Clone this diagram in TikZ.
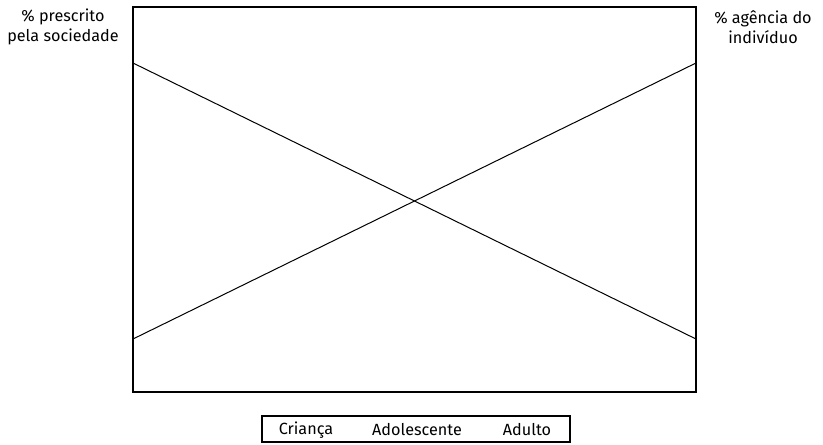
\documentclass[tikz,border=0pt]{standalone}
\usepackage{fontspec}
\setmainfont{Fira Sans}
\begin{document}
\begin{tikzpicture}[x=1pt,y=-1pt,
  lbl/.style={font=\fontsize{16.2}{20}\selectfont, align=center, inner sep=0pt},
  frame/.style={draw=black, line width=1.1pt},
  trend/.style={draw=black, line width=1pt}]
\useasboundingbox (0,0) rectangle (823,445);
\draw[frame] (133,7) rectangle (696,392);
\coordinate (l1) at (133,63);
\coordinate (r1) at (696,339);
\coordinate (l2) at (133,339);
\coordinate (r2) at (696,63);
\draw[trend] (l1) -- (r1);
\draw[trend] (l2) -- (r2);
\node[lbl] (pres) at (63,27) {\% prescrito\\pela sociedade};
\node[lbl] (agen) at (763,27) {\% agência do\\indivíduo};
\draw[frame] (262,416) rectangle (570,442);
\node[lbl] (cri) at (306,430) {Criança};
\node[lbl] (ado) at (417,430) {Adolescente};
\node[lbl] (adu) at (527,430) {Adulto};
\end{tikzpicture}
\end{document}
